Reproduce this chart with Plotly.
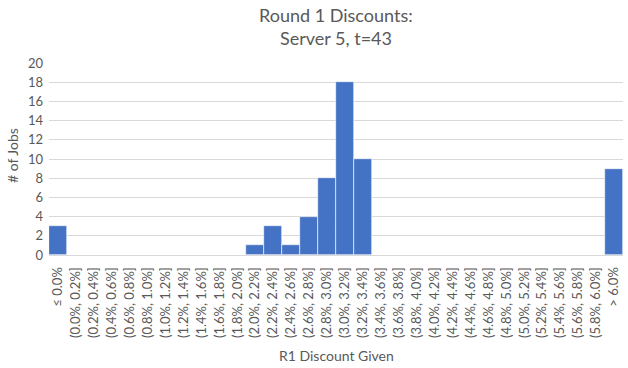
import plotly.graph_objects as go

categories = ["≤ 0.0%"] + [f"({i*0.2:.1f}%, {(i+1)*0.2:.1f}%]" for i in range(30)] + ["> 6.0%"]
counts = [3, 0, 0, 0, 0, 0, 0, 0, 0, 0, 0, 1, 3, 1, 4, 8, 18, 10, 0, 0, 0, 0, 0, 0, 0, 0, 0, 0, 0, 0, 0, 9]
y_ticks = list(range(0, 21, 2))

font_family = "Lato, 'Open Sans', sans-serif"
text_color = "#595959"

W, H = 628, 368
ML, MR, MT, MB = 49, 5, 63, 113
PH = H - MT - MB
PW = W - ML - MR

fig = go.Figure(go.Bar(
    x=categories, y=counts,
    marker=dict(color="#4472C4", line=dict(color="#FFFFFF", width=0.6)),
    width=1.0,
))

def py(ypix):
    return (H - MB - ypix) / PH

def px(xpix):
    return (xpix - ML) / PW

annotations = [
    dict(text="Round 1 Discounts:", x=0.5, xref="paper", y=py(15), yref="paper",
         xanchor="center", yanchor="middle", showarrow=False,
         font=dict(family=font_family, size=18, color=text_color)),
    dict(text="Server 5, t=43", x=0.5, xref="paper", y=py(38), yref="paper",
         xanchor="center", yanchor="middle", showarrow=False,
         font=dict(family=font_family, size=18, color=text_color)),
    dict(text="R1 Discount Given", x=0.5, xref="paper", y=py(355), yref="paper",
         xanchor="center", yanchor="middle", showarrow=False,
         font=dict(family=font_family, size=14, color=text_color)),
    dict(text="# of Jobs", x=px(12), xref="paper", y=py(156), yref="paper",
         xanchor="center", yanchor="middle", showarrow=False, textangle=-90,
         font=dict(family=font_family, size=14, color=text_color)),
]

fig.update_layout(
    width=W, height=H,
    margin=dict(l=ML, r=MR, t=MT, b=MB, autoexpand=False),
    paper_bgcolor="white", plot_bgcolor="white",
    bargap=0,
    showlegend=False,
    font=dict(family=font_family, color=text_color),
    annotations=annotations,
)
fig.update_xaxes(
    type="category", tickangle=-90, tickfont=dict(size=13, color=text_color),
    showgrid=False, showline=True, linecolor="#D9D9D9", linewidth=1,
    ticks="", automargin=False, ticklabelstandoff=6,
)
fig.update_yaxes(
    range=[0, 20], tickvals=y_ticks, showgrid=True, gridcolor="#D9D9D9", gridwidth=1,
    zeroline=False, showline=False, ticks="", tickfont=dict(size=13, color=text_color),
    automargin=False, ticklabelstandoff=5,
)

# remove the browser's default 8px body margin so the figure fills the window
fig.write_html("out.html", config={"displayModeBar": False},
               post_script="document.body.style.margin='0';")
